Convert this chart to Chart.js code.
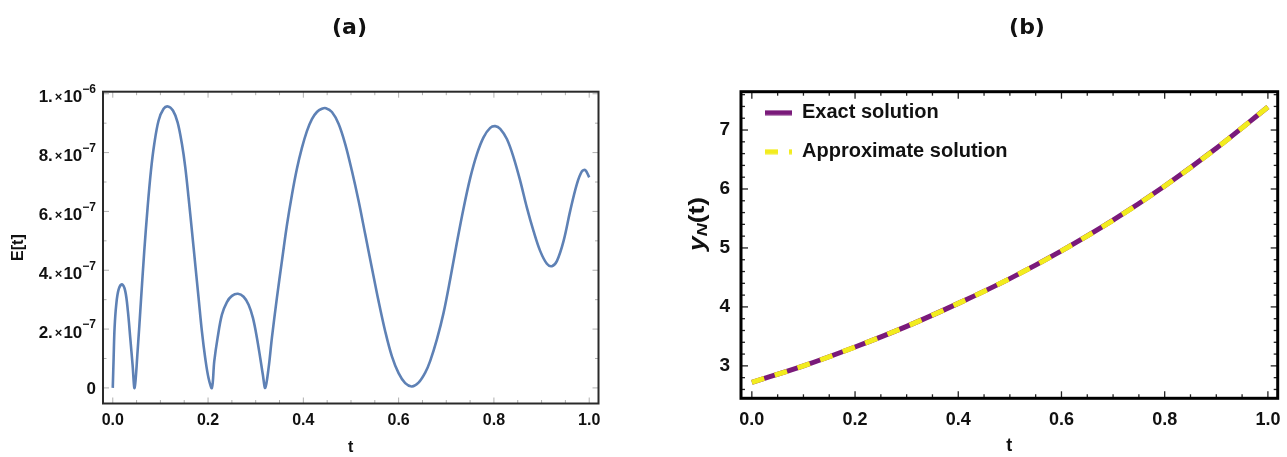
<!DOCTYPE html>
<html>
<head>
<meta charset="utf-8">
<script src="https://cdn.jsdelivr.net/npm/chart.js@4.4.1/dist/chart.umd.min.js"></script>
<style>
  html, body { margin: 0; padding: 0; background: #fff; overflow: hidden; }
  #wrap { position: relative; width: 1287px; height: 457px; overflow: hidden; }
  #boxA { position: absolute; left: 0; top: 0; width: 699px; height: 457px; }
  #boxB { position: absolute; left: 660px; top: 0; width: 734px; height: 457px; }
</style>
</head>
<body>
<div id="wrap">
  <div id="boxA"><canvas id="chartA"></canvas></div>
  <div id="boxB"><canvas id="chartB"></canvas></div>
</div>
<script>
// (a) error E[t], values in units of 1e-6
const tError = [0, 0.0018, 0.0038, 0.0073, 0.0122, 0.0192, 0.0262, 0.0318, 0.0367, 0.0416, 0.0458,
  0.0521, 0.0591, 0.0661, 0.0731, 0.0801, 0.0871, 0.0962, 0.1067, 0.1158, 0.1263, 0.1361, 0.1452,
  0.1522, 0.1591, 0.1662, 0.1731, 0.1801, 0.1871, 0.1941, 0.2011, 0.2081,
  0.2130, 0.2200, 0.2291, 0.2396, 0.2501, 0.2627, 0.2746, 0.2851, 0.2942, 0.3026, 0.3096, 0.3151, 0.3200,
  0.3270, 0.3340, 0.3445, 0.3550, 0.3655, 0.3760, 0.3865, 0.3970, 0.4075, 0.4180, 0.4285, 0.4390, 0.4474,
  0.4600, 0.4739, 0.4879, 0.5019, 0.5159, 0.5299, 0.5439, 0.5579, 0.5719, 0.5859, 0.5999, 0.6138, 0.6278,
  0.6418, 0.6558, 0.6663, 0.6803, 0.6943, 0.7083, 0.7223, 0.7363, 0.7503, 0.7643, 0.7782, 0.7922, 0.8027,
  0.8132, 0.8272, 0.8412, 0.8552, 0.8692, 0.8832, 0.8972, 0.9112, 0.9216,
  0.9321, 0.9461, 0.9601, 0.9741, 0.9846, 0.9916, 1.0];
const eError = [0, 0.101, 0.204, 0.283, 0.334, 0.352, 0.329, 0.260, 0.170, 0.078, 0,
  0.124, 0.295, 0.465, 0.613, 0.738, 0.829, 0.909, 0.949, 0.957, 0.943, 0.903, 0.829,
  0.750, 0.647, 0.533, 0.420, 0.306, 0.192, 0.101, 0.033, 0,
  0.090, 0.170, 0.249, 0.292, 0.313, 0.320, 0.310, 0.283, 0.238, 0.170, 0.101, 0.044, 0,
  0.067, 0.170, 0.306, 0.431, 0.553, 0.656, 0.745, 0.816, 0.873, 0.914, 0.938, 0.949, 0.951,
  0.938, 0.898, 0.829, 0.738, 0.636, 0.522, 0.408, 0.295, 0.192, 0.107, 0.050, 0.016, 0.005,
  0.018, 0.052, 0.092, 0.165, 0.255, 0.370, 0.494, 0.611, 0.714, 0.795, 0.852, 0.884, 0.890,
  0.881, 0.846, 0.784, 0.704, 0.613, 0.533, 0.465, 0.422, 0.414,
  0.431, 0.499, 0.602, 0.693, 0.736, 0.741, 0.716];
const tTicks = [0, 0.2, 0.4, 0.6, 0.8, 1.0];
const eTicks = [0, 0.2, 0.4, 0.6, 0.8, 1.0];
const eTickBase = ['0', '2.', '4.', '6.', '8.', '1.'];
const eTickExp = ['', '\u22127', '\u22127', '\u22127', '\u22127', '\u22126'];

// (b) exact vs approximate solution
const tSol = [0, 0.1, 0.2, 0.3, 0.4, 0.5, 0.6, 0.7, 0.8, 0.9, 1.0];
const exactSol = [2.72, 3.00, 3.32, 3.67, 4.06, 4.48, 4.95, 5.47, 6.05, 6.69, 7.39];
const approxSol = [2.72, 3.00, 3.32, 3.67, 4.06, 4.48, 4.95, 5.47, 6.05, 6.69, 7.39];
const yTicks = [3, 4, 5, 6, 7];

const FONT = "'Liberation Sans', Arial, sans-serif";
const INK = '#111';
const PURPLE = '#7a1a7a';
const YELLOW = '#f2ec1e';

// frame around the plot area with Mathematica-like inward ticks
const framePlugin = {
  id: 'frame',
  afterDatasetsDraw(chart, args, o) {
    const { ctx, chartArea: a, scales: { x, y } } = chart;
    ctx.save();
    ctx.strokeStyle = o.tickColor;
    ctx.lineWidth = o.tickWidth;
    const seg = (x1, y1, x2, y2) => { ctx.beginPath(); ctx.moveTo(x1, y1); ctx.lineTo(x2, y2); ctx.stroke(); };
    const each = (scale, step, major, fn) => {
      const i0 = Math.ceil(scale.min / step - 1e-9), i1 = Math.floor(scale.max / step + 1e-9);
      for (let i = i0; i <= i1; i++) {
        const v = i * step;
        const isMajor = Math.abs(v / major - Math.round(v / major)) < 1e-6;
        fn(scale.getPixelForValue(v), isMajor ? o.major : o.minor);
      }
    };
    each(x, o.xMinor, o.xMajor, (px, len) => { seg(px, a.bottom, px, a.bottom - len); seg(px, a.top, px, a.top + len); });
    each(y, o.yMinor, o.yMajor, (py, len) => { seg(a.left, py, a.left + len, py); seg(a.right, py, a.right - len, py); });
    ctx.strokeStyle = o.color;
    ctx.lineWidth = o.width;
    ctx.strokeRect(a.left, a.top, a.right - a.left, a.bottom - a.top);
    ctx.restore();
  }
};

// y labels like 8.×10^-7
const sciLabels = {
  id: 'sciLabels',
  afterDraw(chart) {
    const { ctx, scales: { y } } = chart;
    ctx.save();
    ctx.fillStyle = INK;
    ctx.textBaseline = 'middle';
    ctx.textAlign = 'left';
    const right = y.right - 7;
    eTicks.forEach((v, i) => {
      const py = y.getPixelForValue(v);
      ctx.font = 'bold 17px ' + FONT;
      if (!eTickExp[i]) {
        ctx.textAlign = 'right';
        ctx.fillText(eTickBase[i], right, py + 1);
        ctx.textAlign = 'left';
        return;
      }
      const wm = ctx.measureText(eTickBase[i]).width;
      const w10 = ctx.measureText('10').width;
      ctx.font = 'bold 12px ' + FONT;
      const ew = ctx.measureText(eTickExp[i]).width;
      ctx.font = 'bold 13px ' + FONT;
      const wx = ctx.measureText('\u00d7').width;
      let xx = right - ew - w10 - 1 - wx - 2 - wm;
      ctx.font = 'bold 17px ' + FONT;
      ctx.fillText(eTickBase[i], xx, py + 4);
      xx += wm + 2;
      ctx.font = 'bold 13px ' + FONT;
      ctx.fillText('\u00d7', xx, py + 4);
      xx += wx + 1;
      ctx.font = 'bold 17px ' + FONT;
      ctx.fillText('10', xx, py + 4);
      xx += w10;
      ctx.font = 'bold 12px ' + FONT;
      ctx.fillText(eTickExp[i], xx, py - 4);
    });
    ctx.restore();
  }
};

// rotated y_N(t) axis title
const yNTitle = {
  id: 'yNTitle',
  afterDraw(chart) {
    const { ctx, chartArea: a } = chart;
    ctx.save();
    ctx.translate(a.left - 43, (a.top + a.bottom) / 2 - 21);
    ctx.rotate(-Math.PI / 2);
    ctx.scale(1.2, 1);
    ctx.fillStyle = INK;
    ctx.textBaseline = 'middle';
    const parts = [
      ['italic bold 22px ' + FONT, 'y', 0],
      ['italic bold 15px ' + FONT, 'N', 5],
      ['bold 22px ' + FONT, '(t)', 0]
    ];
    let total = 0;
    parts.forEach(p => { ctx.font = p[0]; total += ctx.measureText(p[1]).width; });
    let xx = -total / 2;
    parts.forEach(p => {
      ctx.font = p[0];
      ctx.fillText(p[1], xx, p[2]);
      xx += ctx.measureText(p[1]).width;
    });
    ctx.restore();
  }
};

// legend sits inside the plot, near its top-left corner
const legendNudge = {
  id: 'legendNudge',
  afterLayout(chart) {
    const l = chart.legend, a = chart.chartArea;
    const h = l.height;
    l.left = a.left + 5;
    l.right = l.left + l.width;
    l.top = a.top - 8;
    l.bottom = l.top + h;
  }
};

// small legend symbols: solid purple line, dashed yellow line
function legendSymbol(color, dash) {
  const c = document.createElement('canvas');
  c.width = 27; c.height = 6;
  const g = c.getContext('2d');
  g.strokeStyle = color;
  g.lineWidth = 5;
  g.setLineDash(dash);
  g.beginPath(); g.moveTo(0, 3); g.lineTo(27, 3); g.stroke();
  return c;
}
const symbols = [legendSymbol(PURPLE, []), legendSymbol(YELLOW, [13, 11])];

const toPoints = (xs, ys) => xs.map((t, i) => ({ x: t, y: ys[i] }));

// empty right-hand axis that only reserves the margin, so the title stays centred on the canvas
const spacer = w => ({
  position: 'right', display: true,
  afterFit: s => { s.width = w; },
  grid: { display: false, drawTicks: false },
  border: { display: false },
  ticks: { display: false }
});

new Chart(document.getElementById('chartA'), {
  type: 'line',
  data: {
    datasets: [{
      data: toPoints(tError, eError),
      borderColor: '#5e81b5',
      borderWidth: 2.6,
      pointRadius: 0,
      tension: 0.35
    }]
  },
  options: {
    responsive: true,
    maintainAspectRatio: false,
    animation: false,
    events: [],
    layout: { padding: 0 },
    plugins: {
      legend: { display: false },
      tooltip: { enabled: false },
      title: {
        display: true, text: '(a)', color: INK,
        font: { family: "'DejaVu Sans', sans-serif", size: 22, weight: 'bold' },
        padding: { top: 15.3, bottom: 50 }
      },
      frame: { color: '#2a2a2a', width: 2, tickColor: '#b0b0b0', tickWidth: 1, major: 6, minor: 3.5,
        xMinor: 0.05, xMajor: 0.2, yMinor: 0.1, yMajor: 0.2 }
    },
    scales: {
      x: {
        type: 'linear', min: -0.0205, max: 1.0195,
        afterBuildTicks: s => { s.ticks = tTicks.map(v => ({ value: v })); },
        afterFit: s => { s.height = 53.5; },
        grid: { display: false, drawTicks: false },
        border: { display: false },
        ticks: { color: INK, padding: 7, maxRotation: 0, font: { family: FONT, size: 16, weight: 'bold' },
          callback: v => v.toFixed(1) },
        title: { display: true, text: 't', color: INK, padding: { top: 0, bottom: 0 },
          font: { family: FONT, size: 16, weight: 'bold' } }
      },
      y: {
        type: 'linear', min: -0.053, max: 1.007,
        afterBuildTicks: s => { s.ticks = eTicks.map(v => ({ value: v })); },
        afterFit: s => { s.width = 103; },
        grid: { display: false, drawTicks: false },
        border: { display: false },
        ticks: { callback: () => '' },
        title: { display: true, text: 'E[t]', color: INK, padding: { top: 9, bottom: 0 },
          font: { family: FONT, size: 16, weight: 'bold' } }
      },
      pad: spacer(100.5)
    }
  },
  plugins: [framePlugin, sciLabels]
});

new Chart(document.getElementById('chartB'), {
  type: 'line',
  data: {
    datasets: [{
      label: 'Exact solution',
      data: toPoints(tSol, exactSol),
      borderColor: PURPLE,
      borderWidth: 5,
      pointRadius: 0,
      cubicInterpolationMode: 'monotone',
      order: 1
    }, {
      label: 'Approximate solution',
      data: toPoints(tSol, approxSol),
      borderColor: YELLOW,
      borderWidth: 5,
      borderDash: [13, 11],
      pointRadius: 0,
      cubicInterpolationMode: 'monotone',
      order: 0
    }]
  },
  options: {
    responsive: true,
    maintainAspectRatio: false,
    animation: false,
    events: [],
    layout: { padding: 0 },
    plugins: {
      tooltip: { enabled: false },
      legend: {
        position: 'chartArea', align: 'start',
        labels: {
          usePointStyle: true, pointStyleWidth: 27, padding: 19,
          color: INK, font: { family: FONT, size: 20, weight: 'bold' },
          sort: (a, b) => a.datasetIndex - b.datasetIndex,
          generateLabels: chart => Chart.defaults.plugins.legend.labels.generateLabels(chart)
            .map(item => Object.assign(item, { pointStyle: symbols[item.datasetIndex] }))
        }
      },
      title: {
        display: true, text: '(b)', color: INK,
        font: { family: "'DejaVu Sans', sans-serif", size: 22, weight: 'bold' },
        padding: { top: 15.3, bottom: 50 }
      },
      frame: { color: '#000', width: 3, tickColor: '#222', tickWidth: 1.3, major: 7, minor: 4,
        xMinor: 0.05, xMajor: 0.2, yMinor: 0.2, yMajor: 1 }
    },
    scales: {
      x: {
        type: 'linear', min: -0.021, max: 1.019,
        afterBuildTicks: s => { s.ticks = tTicks.map(v => ({ value: v })); },
        afterFit: s => { s.height = 58.7; },
        grid: { display: false, drawTicks: false },
        border: { display: false },
        ticks: { color: INK, padding: 11, maxRotation: 0, font: { family: FONT, size: 18, weight: 'bold' },
          callback: v => v.toFixed(1) },
        title: { display: true, text: 't', color: INK, padding: { top: 0, bottom: 0 },
          font: { family: FONT, size: 18, weight: 'bold' } }
      },
      y: {
        type: 'linear', min: 2.45, max: 7.65,
        afterBuildTicks: s => { s.ticks = yTicks.map(v => ({ value: v })); },
        afterFit: s => { s.width = 81; },
        grid: { display: false, drawTicks: false },
        border: { display: false },
        ticks: { color: INK, padding: 11, font: { family: FONT, size: 19, weight: 'bold' } },
        title: { display: false }
      },
      pad: spacer(116.3)
    }
  },
  plugins: [framePlugin, yNTitle, legendNudge]
});
</script>
</body>
</html>
